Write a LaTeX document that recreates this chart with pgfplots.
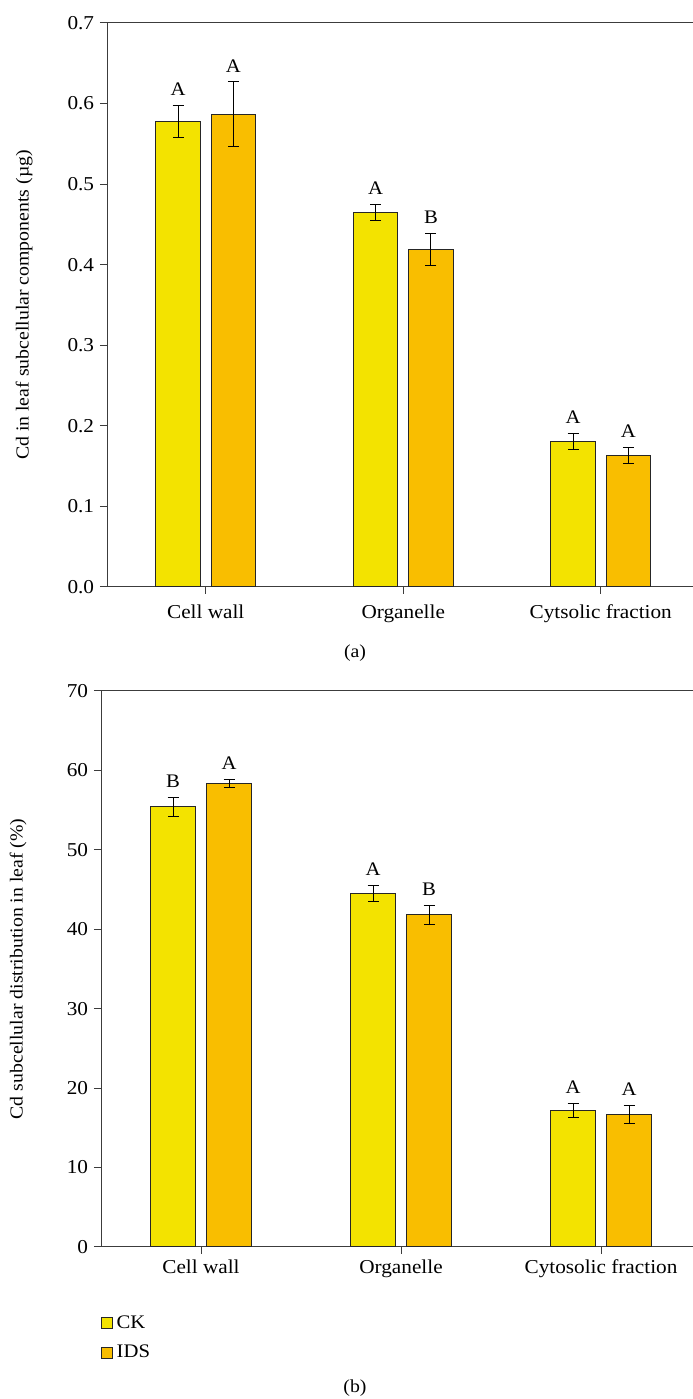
\documentclass[border=0pt]{standalone}
\usepackage{fontspec}
\setmainfont{Liberation Serif}[FakeStretch=1.08]
\usepackage{pgfplots}
\usepackage{pgfplotstable}
\pgfplotsset{compat=1.18}
\definecolor{ck}{RGB}{243,227,0}
\definecolor{ids}{RGB}{249,190,0}
\definecolor{axc}{RGB}{60,60,60}

\pgfplotstableread{
x xc y err top lab
0 -0.14 0.578 0.020 0.598 A
1 0.86 0.465 0.010 0.475 A
2 1.86 0.181 0.010 0.191 A
}\ckA
\pgfplotstableread{
x xc y err top lab
0 0.14 0.587 0.040 0.627 A
1 1.14 0.419 0.020 0.439 B
2 2.14 0.163 0.010 0.173 A
}\idsA
\pgfplotstableread{
x xc y err top lab
0 -0.14 55.4 1.2 56.6 B
1 0.86 44.5 1.0 45.5 A
2 1.86 17.2 0.9 18.1 A
}\ckB
\pgfplotstableread{
x xc y err top lab
0 0.14 58.35 0.5 58.85 A
1 1.14 41.8 1.2 43.0 B
2 2.14 16.7 1.1 17.8 A
}\idsB

\pgfplotsset{
  panel/.style={
    scale only axis, anchor=south west,
    xmin=-0.5, xmax=2.5,
    xtick={0,1,2},
    tick pos=left, tick align=outside,
    major tick length=4.2pt,
    axis line style={axc, line width=0.6pt},
    every tick/.style={axc, line width=0.6pt},
    font=\fontsize{11}{13}\selectfont,
    /pgf/number format/assume math mode=true,
    ticklabel style={font=\fontsize{11.8}{13}\selectfont},
    every node near coord/.append style={anchor=south, inner sep=0pt, yshift=5.6pt, font=\fontsize{11.5}{13}\selectfont, black},
  },
  barck/.style={ybar, bar width=0.225, bar shift=-0.14, fill=ck, draw=black!85, line width=0.6pt,
    legend image code/.code={\draw[fill=ck, draw=black!85, line width=0.6pt] (0pt,-3.3pt) rectangle (6.6pt,3.3pt);}},
  barids/.style={ybar, bar width=0.225, bar shift=0.14, fill=ids, draw=black!85, line width=0.6pt,
    legend image code/.code={\draw[fill=ids, draw=black!85, line width=0.6pt] (0pt,-3.3pt) rectangle (6.6pt,3.3pt);}},
  errs/.style={draw=none, mark=none, forget plot,
    error bars/.cd, y dir=both, y explicit,
    error bar style={line width=0.6pt, black},
    error mark options={rotate=90, mark size=3.3pt, line width=0.6pt, black}},
  letters/.style={draw=none, mark=none, forget plot, nodes near coords, point meta=explicit symbolic},
}

\begin{document}
\begin{tikzpicture}
\useasboundingbox (0,0) rectangle (415.2pt,839.4pt);
\begin{axis}[panel,
  at={(64.2pt,487.2pt)}, width=355.5pt, height=338.4pt,
  ymin=0, ymax=0.7,
  ytick={0,0.1,0.2,0.3,0.4,0.5,0.6,0.7},
  yticklabel style={/pgf/number format/.cd, fixed, fixed zerofill, precision=1},
  xticklabels={Cell wall,Organelle,Cytsolic fraction},
  xticklabel style={yshift=-3pt},
  ylabel={Cd in leaf subcellular components (µg)},
  ylabel style={at={(axis description cs:-0.140,0.5)}, anchor=center},
]
\addplot[barck] table[x=x, y=y] {\ckA};
\addplot[barids] table[x=x, y=y] {\idsA};
\addplot[errs] table[x=xc, y=y, y error=err] {\ckA};
\addplot[errs] table[x=xc, y=y, y error=err] {\idsA};
\addplot[letters] table[x=xc, y=top, meta=lab] {\ckA};
\addplot[letters] table[x=xc, y=top, meta=lab] {\idsA};
\end{axis}

\begin{axis}[panel,
  at={(60.6pt,91.2pt)}, width=360pt, height=333.8pt,
  ymin=0, ymax=70,
  ytick={0,10,20,30,40,50,60,70},
  xticklabels={Cell wall,Organelle,Cytosolic fraction},
  ylabel={Cd subcellular distribution in leaf (\%)},
  ylabel style={at={(axis description cs:-0.138,0.5)}, anchor=center},
  legend cell align=left,
  legend style={at={(axis description cs:0,-0.117)}, anchor=north west, draw=none, fill=none,
    inner sep=0pt, row sep=4.5pt, font=\fontsize{11.5}{13}\selectfont,
    /tikz/every even column/.append style={column sep=8pt}},
]
\addplot[barck] table[x=x, y=y] {\ckB};
\addlegendentry{CK}
\addplot[barids] table[x=x, y=y] {\idsB};
\addlegendentry{IDS}
\addplot[errs] table[x=xc, y=y, y error=err] {\ckB};
\addplot[errs] table[x=xc, y=y, y error=err] {\idsB};
\addplot[letters] table[x=xc, y=top, meta=lab] {\ckB};
\addplot[letters] table[x=xc, y=top, meta=lab] {\idsB};
\end{axis}

\node[font=\fontsize{11}{13}\selectfont] at (213pt,447.6pt) {(a)};
\node[font=\fontsize{11}{13}\selectfont] at (213pt,6.6pt) {(b)};
\end{tikzpicture}
\end{document}
